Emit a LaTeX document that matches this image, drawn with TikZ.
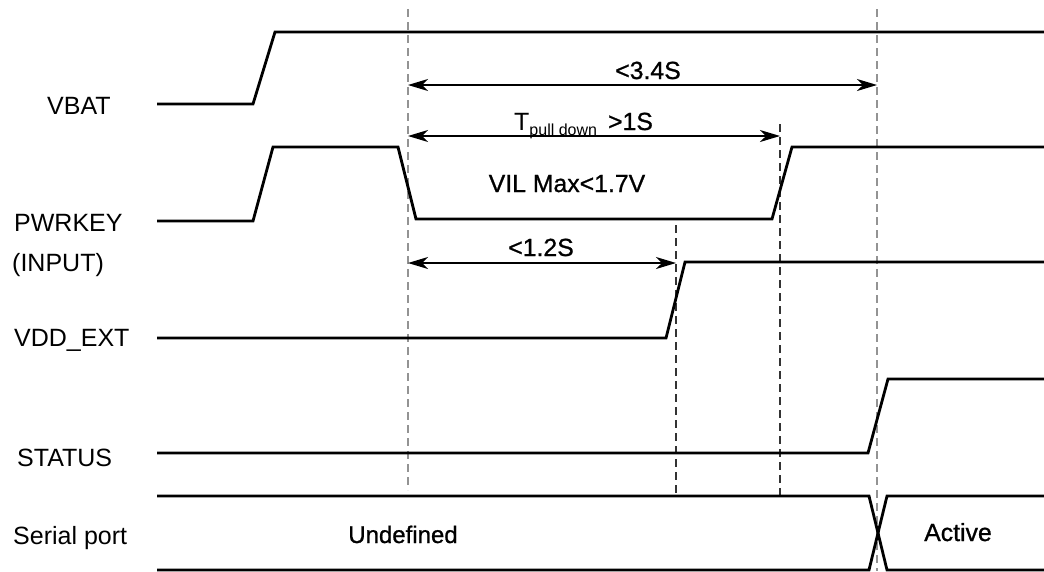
\documentclass[tikz,border=0pt]{standalone}
\usepackage{fontspec}
\setmainfont{Liberation Sans}
\newfontfamily\annfont{Liberation Sans}[FakeBold=0.9]
\usetikzlibrary{arrows.meta}
\begin{document}
\begin{tikzpicture}[x=1pt,y=-1pt,
  sig/.style={line width=2.8pt, line join=miter},
  meas/.style={line width=1.3pt, {Stealth[length=20pt,width=12pt,inset=6pt]}-{Stealth[length=20pt,width=12pt,inset=6pt]}},
  guide/.style={line width=1.2pt, dash pattern=on 8pt off 5pt, gray!85},
  guideb/.style={line width=1.2pt, dash pattern=on 8pt off 5pt, black!80},
  lbl/.style={font=\fontsize{25}{28}\selectfont, inner sep=0pt, text height=18pt, text depth=0pt, anchor=west},
  ann/.style={font=\annfont\fontsize{24.8}{28}\selectfont, inner sep=0pt, text height=18pt, text depth=0pt}]
\useasboundingbox (0,0) rectangle (1044,571);

% guide lines
\coordinate (g1t) at (408,9);   \coordinate (g1b) at (408,490);
\coordinate (g2t) at (676,225); \coordinate (g2b) at (676,495);
\coordinate (g3t) at (780,124); \coordinate (g3b) at (780,495);
\coordinate (g4t) at (877,9);   \coordinate (g4b) at (877,571);
\draw[guide] (g1t) -- (g1b);
\draw[guideb] (g2t) -- (g2b);
\draw[guideb] (g3t) -- (g3b);
\draw[guide] (g4t) -- (g4b);

% signals
\draw[sig] (157,104) -- (253,104) -- (275,32) -- (1044,32);
\draw[sig] (157,221) -- (253,221) -- (273,147) -- (398,147) -- (416,219) -- (772,219) -- (792,147) -- (1044,147);
\draw[sig] (157,338) -- (666,338) -- (685,262) -- (1044,262);
\draw[sig] (157,453) -- (868,453) -- (888,379) -- (1044,379);
\draw[sig] (157,496) -- (869,496) -- (887,570) -- (1044,570);
\draw[sig] (157,570) -- (869,570) -- (887,496) -- (1044,496);

% measurement arrows
\coordinate (a1l) at (408,85);  \coordinate (a1r) at (877,85);
\coordinate (a2l) at (408,136); \coordinate (a2r) at (780,136);
\coordinate (a3l) at (408,263); \coordinate (a3r) at (676,263);
\draw[meas] (a1l) -- (a1r);
\draw[meas] (a2l) -- (a2r);
\draw[meas] (a3l) -- (a3r);

% annotations
\node[ann] (t34) at (648,70) {<3.4S};
\node[ann, anchor=base west] (tpd) at (514,130) {{\normalfont\fontsize{25}{28}\selectfont T\raisebox{-5pt}{\fontsize{16}{16}\selectfont pull down}}\hspace{11pt}>1S};
\node[ann] (t12) at (541,247) {<1.2S};
\node[ann] (vil) at (567,183) {VIL Max<1.7V};
\node[ann, font=\annfont\fontsize{24}{27}\selectfont] (und) at (403,534) {Undefined};
\node[ann] (act) at (958,532) {Active};

% signal labels
\node[lbl] (lvbat) at (47,105) {VBAT};
\node[lbl] (lpwr) at (14,222) {PWRKEY};
\node[lbl] (linp) at (12,262) {(INPUT)};
\node[lbl] (lvdd) at (14,337) {VDD\_EXT};
\node[lbl] (lsta) at (17,457) {STATUS};
\node[lbl] (lser) at (13,535) {Serial port};
\end{tikzpicture}
\end{document}
